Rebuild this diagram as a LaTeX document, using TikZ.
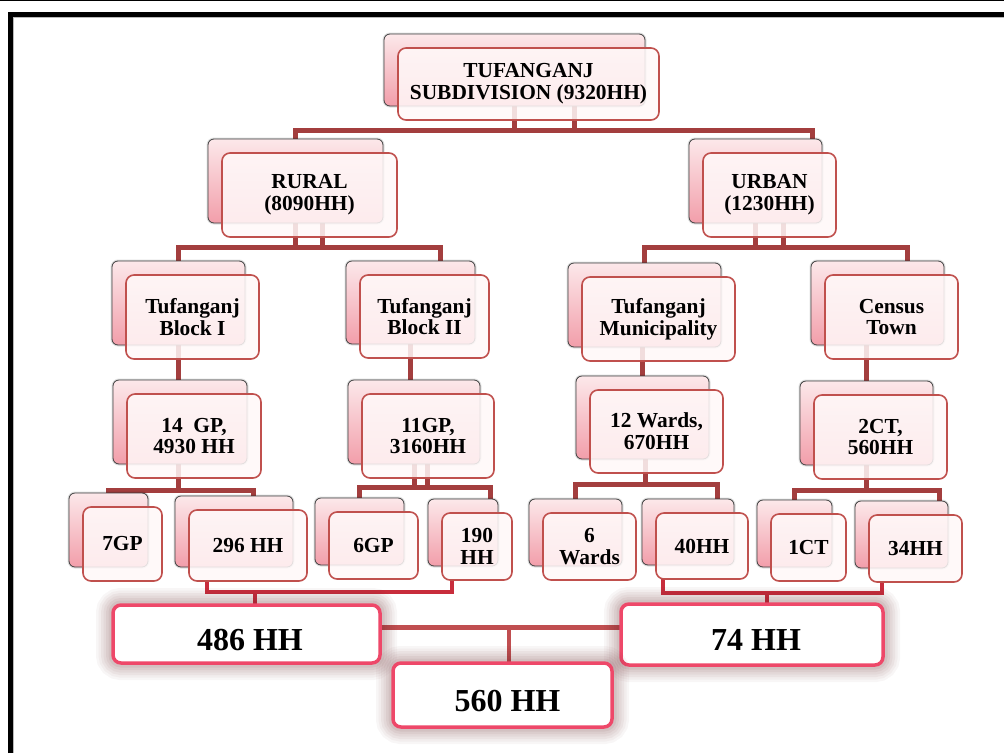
\documentclass[tikz,border=0pt]{standalone}
\usepackage{fontspec}
\setmainfont{Liberation Serif}
\pgfdeclarelayer{bg}
\pgfsetlayers{bg,main}
\definecolor{connc}{RGB}{163,62,62}
\definecolor{conntwo}{RGB}{200,45,60}
\definecolor{connthree}{RGB}{192,78,80}
\definecolor{frontc}{RGB}{192,80,77}
\definecolor{frontfill}{RGB}{255,249,249}
\definecolor{backtop}{RGB}{252,232,234}
\definecolor{backbot}{RGB}{242,158,170}
\definecolor{bigc}{RGB}{238,72,105}
\definecolor{glowc}{RGB}{100,35,40}
\newcommand\tfnt{\bfseries\fontsize{21.4}{21.8}\selectfont}
\newcommand\bfnt{\bfseries\fontsize{32}{36}\selectfont}
\newcommand\tnode[6]{%
  \pgfmathsetmacro\tnCx{(#2+#4)/2}%
  \pgfmathsetmacro\tnCy{(#3+#5)/2}%
  \pgfmathsetmacro\tnW{#4-#2}%
  \pgfmathsetmacro\tnH{#5-#3}%
  \node[backbox,minimum width=\tnW pt,minimum height=\tnH pt] (#1b) at (\tnCx-14,\tnCy-14) {};
  \node[frontbox,minimum width=\tnW pt,minimum height=\tnH pt] (#1) at (\tnCx,\tnCy) {#6};}
\tikzset{
  backbox/.style={rectangle, rounded corners=6pt, draw=gray!50!black, line width=0.8pt,
    top color=backtop, bottom color=backbot, inner sep=0pt, outer sep=0pt,
    preaction={draw=black, draw opacity=0.12, line width=3pt}},
  frontbox/.style={rectangle, rounded corners=8pt, draw=frontc, line width=1.6pt,
    fill=frontfill, fill opacity=0.85, text opacity=1, inner sep=0pt, outer sep=0pt,
    align=center, font=\tfnt},
  bigbox/.style={rectangle, rounded corners=8pt, draw=bigc, line width=3.5pt, fill=white,
    inner sep=0pt, outer sep=0pt, font=\bfnt, text height=32pt, text depth=0pt,
    preaction={draw=glowc, draw opacity=0.04, line width=34pt},
    preaction={draw=glowc, draw opacity=0.04, line width=29pt},
    preaction={draw=glowc, draw opacity=0.05, line width=24pt},
    preaction={draw=glowc, draw opacity=0.05, line width=19pt},
    preaction={draw=glowc, draw opacity=0.06, line width=14pt},
    preaction={draw=glowc, draw opacity=0.07, line width=9pt}},
  conn/.style={draw=connc, line width=5pt},
  conntw/.style={draw=conntwo, line width=4pt},
  connth/.style={draw=connthree, line width=5pt}
}
\begin{document}
\begin{tikzpicture}[x=1pt,y=-1pt]
\useasboundingbox (0,0) rectangle (1004,753);
% frame
\draw[line width=1pt] (0,0.5) -- (1004,0.5);
\draw[gray!55, line width=1.2pt] (13.4,753) -- (13.4,17.2) -- (1004,17.2);
\draw[line width=4.6pt, line join=miter] (10.4,753) -- (10.4,14.2) -- (1004,14.2);
% tree boxes
\tnode{top}{398}{48}{659}{120}{TUFANGANJ\\SUBDIVISION (9320HH)}
\tnode{rural}{222}{153}{397}{237}{RURAL\\(8090HH)}
\tnode{urban}{703}{153}{836}{237}{URBAN\\(1230HH)}
\tnode{blkI}{126}{275}{259}{359}{Tufanganj\\Block I}
\tnode{blkII}{360}{275}{489}{358}{Tufanganj\\Block II}
\tnode{munic}{582}{277}{735}{361}{Tufanganj\\Municipality}
\tnode{census}{825}{275}{958}{359}{Census\\Town}
\tnode{gpA}{127}{394}{261}{478}{14\ \ GP,\\4930 HH}
\tnode{gpB}{362}{394}{494}{478}{11GP,\\3160HH}
\tnode{wards}{590}{390}{723}{473}{12 Wards,\\670HH}
\tnode{ctA}{814}{395}{947}{479}{2CT,\\560HH}
\tnode{gpseven}{83}{507}{162}{581}{7GP}
\tnode{hhA}{189}{510}{307}{581}{296 HH}
\tnode{gpsix}{329}{512}{418}{579}{6GP}
\tnode{hhB}{442}{513}{512}{580}{190\\HH}
\tnode{wdsix}{543}{513}{636}{580}{6\\Wards}
\tnode{hhC}{656}{513}{748}{579}{40HH}
\tnode{ctone}{771}{514}{846}{581}{1CT}
\tnode{hhD}{869}{515}{962}{582}{34HH}
% bottom boxes
\node[bigbox, minimum width=267pt, minimum height=58pt] (hhsum) at (246.5,634) {\hspace*{7pt}486 HH};
\node[bigbox, minimum width=262pt, minimum height=61pt] (hhurb) at (752,634.5) {\hspace*{8pt}74 HH};
\node[bigbox, minimum width=219pt, minimum height=64pt] (hhall) at (502.5,695) {\hspace*{10pt}560 HH};
% connectors
\begin{pgfonlayer}{bg}
\fill[white] (0,0) rectangle (1004,753);
\draw[conn] (topb.south) -- ++(0,24);
\draw[conn] ([xshift=60pt]topb.south) -- ++(0,24);
\draw[conn] (ruralb.north) |- ([xshift=57pt,yshift=9pt]urbanb.north) -- ([xshift=57pt]urbanb.north);
\draw[conn] (ruralb.south) -- ++(0,24);
\draw[conn] ([xshift=27pt]ruralb.south) -- ++(0,24);
\draw[conn] (blkIb.north) |- ([xshift=29.5pt,yshift=14pt]blkIIb.north) -- ([xshift=29.5pt]blkIIb.north);
\draw[conn] (urbanb.south) -- ++(0,24);
\draw[conn] ([xshift=28pt]urbanb.south) -- ++(0,24);
\draw[conn] (municb.north) |- ([xshift=29.5pt,yshift=14pt]censusb.north) -- ([xshift=29.5pt]censusb.north);
\draw[conn] (blkIb.south) -- (blkIb.south |- gpAb.north);
\draw[conn] (blkIIb.south) -- (blkIIb.south |- gpBb.north);
\draw[conn] (wardsb.north |- municb.south) -- (wardsb.north);
\draw[conn] (ctAb.north |- censusb.south) -- (ctAb.north);
\draw[conn] ([xshift=-2pt]gpAb.south) -- ++(0,26);
\draw[conn] (gpsevenb.north) |- ([xshift=19pt,yshift=6pt]hhAb.north) -- ([xshift=19pt]hhAb.north);
\draw[conn] (gpBb.south) -- ++(0,23);
\draw[conn] ([xshift=13pt]gpBb.south) -- ++(0,23);
\draw[conn] (gpsixb.north) |- ([xshift=27pt,yshift=12pt]hhBb.north) -- ([xshift=27pt]hhBb.north);
\draw[conn] ([xshift=2.5pt]wardsb.south) -- ++(0,25);
\draw[conn] (wdsixb.north) |- ([xshift=29pt,yshift=15pt]hhCb.north) -- ([xshift=29pt]hhCb.north);
\draw[conn] (ctAb.south) -- ++(0,25);
\draw[conn] (ctoneb.north) |- ([xshift=37.5pt,yshift=11pt]hhDb.north) -- ([xshift=37.5pt]hhDb.north);
\draw[conntw] ([xshift=-41pt]hhA.south) |- ([xshift=-25pt,yshift=-12pt]hhB.south) -- ([xshift=-25pt]hhB.south);
\draw[conntw] ([xshift=8.5pt]hhsum.north) -- ++(0,-13);
\draw[conntw] ([xshift=-39pt]hhC.south) |- ([xshift=-33.5pt,yshift=-11pt]hhD.south) -- ([xshift=-33.5pt]hhD.south);
\draw[conntw] ([xshift=15pt]hhurb.north) -- ++(0,-11);
\draw[connth] ([yshift=7pt]hhsum.east) -- ([yshift=7pt]hhsum.east -| hhurb.west);
\draw[connth, line width=4pt] ([xshift=6.5pt]hhall.north) -- ++(0,-36);
\end{pgfonlayer}
\end{tikzpicture}
\end{document}
